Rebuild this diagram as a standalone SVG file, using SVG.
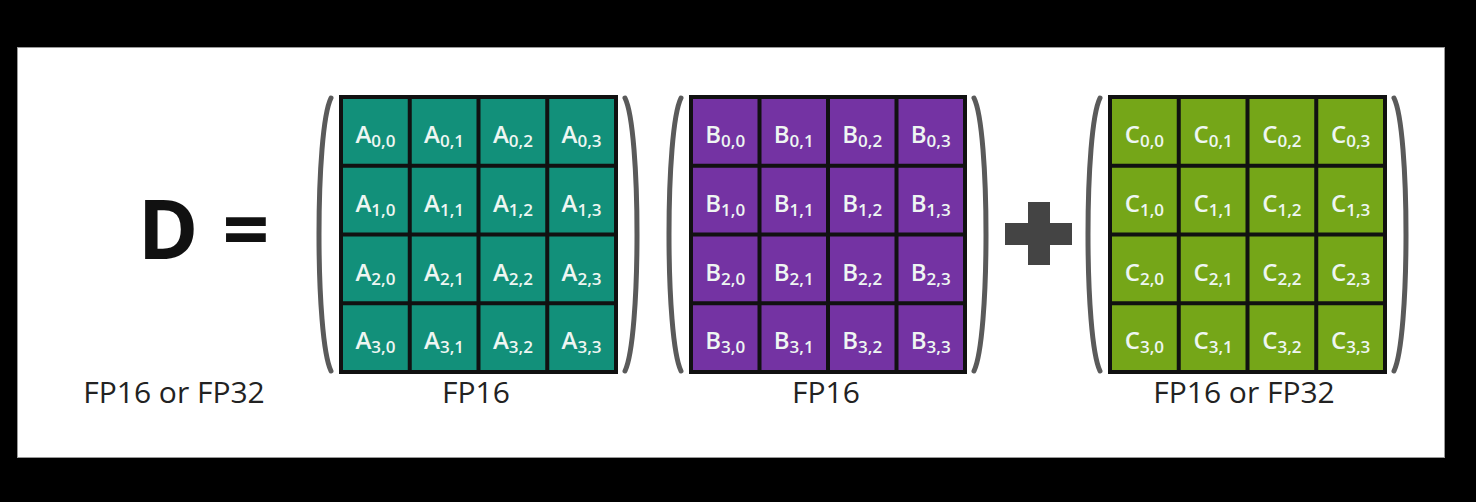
<svg xmlns="http://www.w3.org/2000/svg" width="1476" height="502" viewBox="0 0 1476 502">
<style>
.cell{font-family:"Open Sans","DejaVu Sans",sans-serif;font-size:24px;font-weight:600;fill:#eef6f2;text-anchor:middle}
.sub{font-size:17px}
.grid{stroke:#111;stroke-width:4;fill:none}
.paren{stroke:#5a5a5a;stroke-width:5;fill:none;stroke-linecap:round}
.lbl{font-family:"Open Sans","DejaVu Sans",sans-serif;font-size:30px;fill:#222;text-anchor:middle}
.big{font-family:"Open Sans","DejaVu Sans",sans-serif;font-weight:700;font-size:82px;fill:#111;text-anchor:middle}
</style>
<rect width="1476" height="502" fill="#000"/>
<rect x="17.5" y="47.5" width="1427" height="410" fill="#fff" stroke="#999" stroke-width="1"/>
<g id="D-eq">
<text class="big" x="168" y="259">D</text>
<text class="big" x="246" y="259" font-size="76">=</text>
<text class="lbl" x="174" y="403">FP16 or FP32</text>
</g>
<g id="matrix-A">
<rect x="341" y="97" width="275" height="275" fill="#12907a"/>
<path class="grid" d="M341,97H616V372H341Z M409.75,97V372 M478.5,97V372 M547.25,97V372 M341,165.75H616 M341,234.5H616 M341,303.25H616"/>
<path class="paren" d="M331,98 C315,130 315,338 331,371"/>
<path class="paren" d="M625,98 C641,130 641,338 625,371"/>
<text class="cell" x="375.4" y="143">A<tspan class="sub" dy="4">0,0</tspan></text>
<text class="cell" x="444.1" y="143">A<tspan class="sub" dy="4">0,1</tspan></text>
<text class="cell" x="512.9" y="143">A<tspan class="sub" dy="4">0,2</tspan></text>
<text class="cell" x="581.6" y="143">A<tspan class="sub" dy="4">0,3</tspan></text>
<text class="cell" x="375.4" y="211.7">A<tspan class="sub" dy="4">1,0</tspan></text>
<text class="cell" x="444.1" y="211.7">A<tspan class="sub" dy="4">1,1</tspan></text>
<text class="cell" x="512.9" y="211.7">A<tspan class="sub" dy="4">1,2</tspan></text>
<text class="cell" x="581.6" y="211.7">A<tspan class="sub" dy="4">1,3</tspan></text>
<text class="cell" x="375.4" y="280.5">A<tspan class="sub" dy="4">2,0</tspan></text>
<text class="cell" x="444.1" y="280.5">A<tspan class="sub" dy="4">2,1</tspan></text>
<text class="cell" x="512.9" y="280.5">A<tspan class="sub" dy="4">2,2</tspan></text>
<text class="cell" x="581.6" y="280.5">A<tspan class="sub" dy="4">2,3</tspan></text>
<text class="cell" x="375.4" y="349.2">A<tspan class="sub" dy="4">3,0</tspan></text>
<text class="cell" x="444.1" y="349.2">A<tspan class="sub" dy="4">3,1</tspan></text>
<text class="cell" x="512.9" y="349.2">A<tspan class="sub" dy="4">3,2</tspan></text>
<text class="cell" x="581.6" y="349.2">A<tspan class="sub" dy="4">3,3</tspan></text>
<text class="lbl" x="476" y="403">FP16</text>
</g>
<g id="matrix-B">
<rect x="691" y="97" width="274" height="275" fill="#7433a3"/>
<path class="grid" d="M691,97H965V372H691Z M759.5,97V372 M828,97V372 M896.5,97V372 M691,165.75H965 M691,234.5H965 M691,303.25H965"/>
<path class="paren" d="M681,98 C665,130 665,338 681,371"/>
<path class="paren" d="M974,98 C990,130 990,338 974,371"/>
<text class="cell" x="725.2" y="143">B<tspan class="sub" dy="4">0,0</tspan></text>
<text class="cell" x="793.7" y="143">B<tspan class="sub" dy="4">0,1</tspan></text>
<text class="cell" x="862.2" y="143">B<tspan class="sub" dy="4">0,2</tspan></text>
<text class="cell" x="930.7" y="143">B<tspan class="sub" dy="4">0,3</tspan></text>
<text class="cell" x="725.2" y="211.7">B<tspan class="sub" dy="4">1,0</tspan></text>
<text class="cell" x="793.7" y="211.7">B<tspan class="sub" dy="4">1,1</tspan></text>
<text class="cell" x="862.2" y="211.7">B<tspan class="sub" dy="4">1,2</tspan></text>
<text class="cell" x="930.7" y="211.7">B<tspan class="sub" dy="4">1,3</tspan></text>
<text class="cell" x="725.2" y="280.5">B<tspan class="sub" dy="4">2,0</tspan></text>
<text class="cell" x="793.7" y="280.5">B<tspan class="sub" dy="4">2,1</tspan></text>
<text class="cell" x="862.2" y="280.5">B<tspan class="sub" dy="4">2,2</tspan></text>
<text class="cell" x="930.7" y="280.5">B<tspan class="sub" dy="4">2,3</tspan></text>
<text class="cell" x="725.2" y="349.2">B<tspan class="sub" dy="4">3,0</tspan></text>
<text class="cell" x="793.7" y="349.2">B<tspan class="sub" dy="4">3,1</tspan></text>
<text class="cell" x="862.2" y="349.2">B<tspan class="sub" dy="4">3,2</tspan></text>
<text class="cell" x="930.7" y="349.2">B<tspan class="sub" dy="4">3,3</tspan></text>
<text class="lbl" x="826" y="403">FP16</text>
</g>
<g id="plus">
<rect x="1005" y="223" width="67" height="22" fill="#444"/>
<rect x="1028" y="202" width="22" height="63" fill="#444"/>
</g>
<g id="matrix-C">
<rect x="1110" y="97" width="275" height="275" fill="#75a618"/>
<path class="grid" d="M1110,97H1385V372H1110Z M1178.75,97V372 M1247.5,97V372 M1316.25,97V372 M1110,165.75H1385 M1110,234.5H1385 M1110,303.25H1385"/>
<path class="paren" d="M1100,98 C1084,130 1084,338 1100,371"/>
<path class="paren" d="M1394,98 C1410,130 1410,338 1394,371"/>
<text class="cell" x="1144.4" y="143">C<tspan class="sub" dy="4">0,0</tspan></text>
<text class="cell" x="1213.1" y="143">C<tspan class="sub" dy="4">0,1</tspan></text>
<text class="cell" x="1281.9" y="143">C<tspan class="sub" dy="4">0,2</tspan></text>
<text class="cell" x="1350.6" y="143">C<tspan class="sub" dy="4">0,3</tspan></text>
<text class="cell" x="1144.4" y="211.7">C<tspan class="sub" dy="4">1,0</tspan></text>
<text class="cell" x="1213.1" y="211.7">C<tspan class="sub" dy="4">1,1</tspan></text>
<text class="cell" x="1281.9" y="211.7">C<tspan class="sub" dy="4">1,2</tspan></text>
<text class="cell" x="1350.6" y="211.7">C<tspan class="sub" dy="4">1,3</tspan></text>
<text class="cell" x="1144.4" y="280.5">C<tspan class="sub" dy="4">2,0</tspan></text>
<text class="cell" x="1213.1" y="280.5">C<tspan class="sub" dy="4">2,1</tspan></text>
<text class="cell" x="1281.9" y="280.5">C<tspan class="sub" dy="4">2,2</tspan></text>
<text class="cell" x="1350.6" y="280.5">C<tspan class="sub" dy="4">2,3</tspan></text>
<text class="cell" x="1144.4" y="349.2">C<tspan class="sub" dy="4">3,0</tspan></text>
<text class="cell" x="1213.1" y="349.2">C<tspan class="sub" dy="4">3,1</tspan></text>
<text class="cell" x="1281.9" y="349.2">C<tspan class="sub" dy="4">3,2</tspan></text>
<text class="cell" x="1350.6" y="349.2">C<tspan class="sub" dy="4">3,3</tspan></text>
<text class="lbl" x="1244" y="403">FP16 or FP32</text>
</g>
<g id="connectors"/>
</svg>
